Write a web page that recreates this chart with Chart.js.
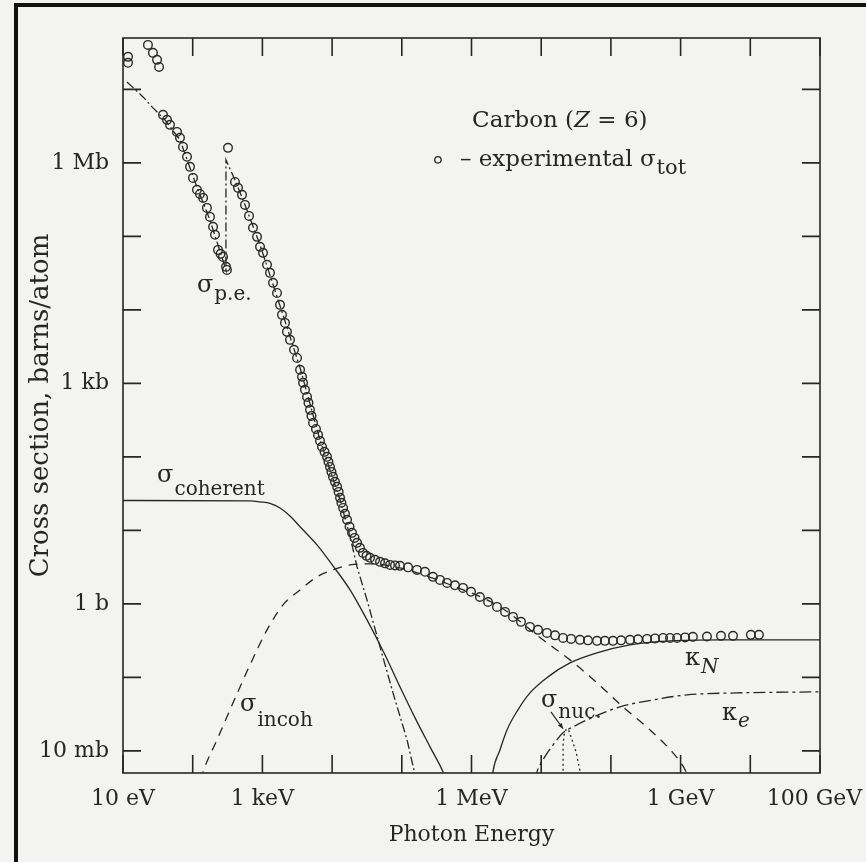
<!DOCTYPE html>
<html>
<head>
<meta charset="utf-8">
<title>Photon cross section - Carbon</title>
<script src="https://cdn.jsdelivr.net/npm/chart.js@4.4.1/dist/chart.umd.min.js"></script>
<style>
  html, body { margin: 0; padding: 0; background: #f3f3f1; }
  #wrap { position: relative; width: 866px; height: 862px; overflow: hidden; }
  #frame {
    position: absolute; left: 14px; top: 3px; right: -10px; bottom: -10px;
    border-left: 4px solid #111; border-top: 4px solid #111; pointer-events: none;
  }
</style>
</head>
<body>
<div id="wrap">
  <canvas id="xsecChart"></canvas>
  <div id="frame"></div>
</div>
<script>
// Axis ticks (eV on x, barns on y)
const X_TICKS = [1e1, 1e2, 1e3, 1e4, 1e5, 1e6, 1e7, 1e8, 1e9, 1e10, 1e11];
const X_TICK_LABELS = ['10 eV', '', '1 keV', '', '', '1 MeV', '', '', '1 GeV', '', '100 GeV\u2002'];
const Y_TICKS = [1e-2, 1e-1, 1e0, 1e1, 1e2, 1e3, 1e4, 1e5, 1e6, 1e7];
const Y_TICK_LABELS = ['10 mb', '', '1 b', '', '', '1 kb', '', '', '1 Mb', ''];

// experimental total cross section (open circles)
const totEnergy = [
  11.8, 11.8, 22.8, 26.9, 30.8, 32.9,
  37.5, 42.8, 47.2, 59.5, 65.7, 72.6, 82.8, 91.5, 101, 115, 127, 141, 160, 177, 196, 209, 231, 251, 272, 301, 310,
  321,
  404, 447, 510, 563, 643, 733, 837, 925, 1020, 1165, 1285, 1420, 1620, 1790, 1910, 2110, 2250, 2490, 2840,
  3140, 3470, 3700, 3830, 4080, 4370, 4580, 4820, 5060, 5330, 5870, 6280, 6700, 7160, 7780, 8450, 8870, 9340,
  9790, 1.03e4, 1.1e4, 1.18e4, 1.24e4, 1.3e4, 1.36e4, 1.44e4, 1.53e4, 1.64e4, 1.78e4, 1.93e4, 2.1e4, 2.28e4,
  2.51e4, 2.77e4, 3.12e4, 3.5e4, 4.13e4, 4.87e4, 5.74e4, 6.77e4, 7.98e4, 9.42e4, 1.23e5, 1.65e5, 2.15e5, 2.8e5,
  3.53e5, 4.46e5, 5.8e5, 7.55e5, 9.84e5, 1.32e6, 1.73e6, 2.32e6, 3.03e6, 3.94e6, 5.13e6, 6.9e6, 9e6, 1.21e7,
  1.58e7, 2.06e7, 2.68e7, 3.6e7, 4.69e7, 6.32e7, 8.2e7, 1.07e8, 1.4e8, 1.88e8, 2.45e8, 3.3e8, 4.3e8, 5.6e8,
  7.05e8, 8.9e8, 1.16e9, 1.5e9, 2.39e9, 3.8e9, 5.65e9, 1.02e10, 1.33e10
];
const totSigma = [
  2.77e7, 2.3e7, 4.03e7, 3.14e7, 2.52e7, 2.02e7,
  4.5e6, 3.85e6, 3.29e6, 2.64e6, 2.19e6, 1.65e6, 1.21e6, 8.83e5, 6.25e5, 4.3e5, 3.78e5, 3.34e5, 2.44e5, 1.84e5, 1.35e5, 1.05e5, 6.55e4, 5.78e4, 5.26e4, 3.85e4, 3.5e4,
  1.6e6,
  5.5e5, 4.57e5, 3.67e5, 2.68e5, 1.9e5, 1.31e5, 9.85e4, 7.2e4, 5.97e4, 4.1e4, 3.19e4, 2.33e4, 1.7e4, 1.17e4, 8550, 6650, 5020, 3910, 2860,
  2220, 1530, 1230, 1020, 817, 655, 543, 436, 361, 290, 240, 199, 165, 137, 117, 100, 85.5, 73,
  62.5, 53.5, 45.7, 39.1, 33.4, 27.7, 23.7, 20.2, 16.8, 13.9, 11.2, 9.25, 7.9, 6.76,
  5.78, 4.94, 4.5, 4.23, 3.97, 3.73, 3.56, 3.39, 3.34, 3.29, 3.14, 2.9, 2.73, 2.33,
  2.12, 1.93, 1.79, 1.65, 1.46, 1.24, 1.06, 0.91, 0.778, 0.665, 0.569, 0.486, 0.443, 0.403,
  0.373, 0.344, 0.334, 0.324, 0.319, 0.314, 0.314, 0.314, 0.319, 0.324, 0.329, 0.334, 0.339, 0.344,
  0.344, 0.344, 0.35, 0.356, 0.36, 0.367, 0.367, 0.379, 0.379
];

// photoelectric (dash-dot), with the K edge
const peEnergy = [11.4, 19.4, 26.9, 40, 65.7, 108, 177, 300, 300, 404, 563, 925, 1910, 3470, 6700, 1.3e4, 1.81e4, 2.28e4, 3.17e4, 4.87e4, 7.48e4, 1.19e5, 1.55e5];
const peSigma = [1.26e7, 7.9e6, 5.6e6, 3.85e6, 2.06e6, 5.5e5, 1.67e5, 3.5e4, 1.1e6, 5.87e5, 2.68e5, 7.66e4, 9400, 1630, 170, 26, 8.2, 3.18, 1.13, 0.26, 0.0615, 0.0141, 0.00472];

// coherent (Rayleigh) scattering
const cohEnergy = [10, 664, 925, 1285, 1790, 2490, 3470, 6070, 1.03e4, 1.81e4, 3.17e4, 5.37e4, 9.42e4, 1.55e5, 2.54e5, 3.9e5, 4.3e5];
const cohSigma = [25.5, 25.2, 24.4, 23.3, 20.2, 15.7, 11.2, 6.35, 3.29, 1.55, 0.605, 0.23, 0.0743, 0.0281, 0.01135, 0.00518, 0.004];

// incoherent (Compton) scattering
const incEnergy = [131, 141, 223, 379, 664, 1165, 1980, 3470, 6070, 1.03e4, 1.81e4, 3.5e4, 9.42e4, 4.92e5, 2.56e6, 1.06e7, 2.59e7, 6.32e7, 1.49e8, 3.64e8, 7.78e8, 1.08e9, 1.28e9];
const incSigma = [0.004, 0.00518, 0.0141, 0.045, 0.148, 0.443, 0.97, 1.55, 2.33, 2.9, 3.4, 3.5, 3.09, 1.82, 0.91, 0.324, 0.173, 0.0842, 0.0397, 0.0193, 0.0094, 0.00625, 0.0046];

// pair production, nuclear field
const knEnergy = [1.97e6, 2.03e6, 2.56e6, 3.23e6, 4.64e6, 6.9e6, 1.25e7, 2.59e7, 6.32e7, 1.88e8, 7.05e8, 3.67e9, 1e11];
const knSigma = [0.004, 0.00518, 0.0103, 0.0193, 0.0362, 0.0615, 0.1016, 0.1575, 0.216, 0.277, 0.314, 0.324, 0.324];

// pair production, electron field
const keEnergy = [8.15e6, 8.7e6, 1.06e7, 1.48e7, 2.06e7, 3.06e7, 4.54e7, 1.35e8, 4.02e8, 1.24e9, 6.44e9, 1e11];
const keSigma = [0.004, 0.00518, 0.00755, 0.0121, 0.0176, 0.0219, 0.0264, 0.0397, 0.0494, 0.0578, 0.0615, 0.0635];

// photonuclear (giant dipole resonance)
const nucEnergy = [2.06e7, 2.06e7, 2.13e7, 2.3e7, 2.5e7, 2.77e7, 3.16e7, 3.72e7];
const nucSigma = [0.0046, 0.0121, 0.0165, 0.020, 0.0187, 0.0141, 0.0097, 0.0046];

const INK = '#262626';
const SERIF = '"DejaVu Serif", "Liberation Serif", serif';
const TICK_LEN = 18;

function zip(xs, ys) {
  return xs.map((x, i) => ({ x: x, y: ys[i] }));
}

function curve(label, xs, ys, dash, smooth) {
  return {
    label: label,
    data: zip(xs, ys),
    showLine: true,
    borderColor: INK,
    borderWidth: 1.3,
    borderDash: dash,
    pointRadius: 0,
    tension: smooth ? 0.4 : 0,
    cubicInterpolationMode: smooth ? 'monotone' : 'default',
    fill: false
  };
}

// text labels placed in data coordinates (energy, sigma)
const CURVE_LABELS = [
  { e: 115, s: 1.76e4, main: 'σ', sub: 'p.e.', drop: 8 },
  { e: 30.8, s: 45.7, main: 'σ', sub: 'coherent', drop: 13 },
  { e: 477, s: 0.0351, main: 'σ', sub: 'incoh', drop: 15 },
  { e: 9.93e6, s: 0.0397, main: 'σ', sub: 'nuc.', drop: 11 },
  { e: 1.16e9, s: 0.148, main: 'κ', sub: 'N', drop: 8, italic: true },
  { e: 3.93e9, s: 0.0264, main: 'κ', sub: 'e', drop: 7, italic: true }
];

/**
 * Frame around the plot with inward ticks on all four sides
 */
const frameTicks = {
  id: 'frameTicks',
  afterDatasetsDraw(chart) {
    const { ctx, chartArea: a, scales: { x, y } } = chart;
    ctx.save();
    ctx.strokeStyle = INK;
    ctx.lineWidth = 1.6;
    ctx.strokeRect(a.left, a.top, a.right - a.left, a.bottom - a.top);
    ctx.beginPath();
    X_TICKS.forEach(v => {
      const px = x.getPixelForValue(v);
      ctx.moveTo(px, a.bottom); ctx.lineTo(px, a.bottom - TICK_LEN);
      ctx.moveTo(px, a.top); ctx.lineTo(px, a.top + TICK_LEN);
    });
    Y_TICKS.forEach(v => {
      const py = y.getPixelForValue(v);
      ctx.moveTo(a.left, py); ctx.lineTo(a.left + TICK_LEN, py);
      ctx.moveTo(a.right, py); ctx.lineTo(a.right - TICK_LEN, py);
    });
    ctx.stroke();
    ctx.restore();
  }
};

/**
 * Draw symbol with subscript
 */
function drawSub(ctx, x, y, main, sub, drop, italic, mainSize, subSize) {
  ctx.font = `${mainSize}px ${SERIF}`;
  ctx.fillText(main, x, y);
  const w = ctx.measureText(main).width;
  ctx.font = `${italic ? 'italic ' : ''}${subSize}px ${SERIF}`;
  ctx.fillText(sub, x + w + 1, y + drop);
}

const annotations = {
  id: 'annotations',
  afterDraw(chart) {
    const { ctx, scales: { x, y } } = chart;
    ctx.save();
    ctx.fillStyle = INK;
    ctx.strokeStyle = INK;
    ctx.textBaseline = 'alphabetic';
    ctx.textAlign = 'left';

    CURVE_LABELS.forEach(l => {
      drawSub(ctx, x.getPixelForValue(l.e), y.getPixelForValue(l.s), l.main, l.sub, l.drop, l.italic, 24, 20);
    });

    // arrow from sigma_nuc label to the resonance
    const ax0 = x.getPixelForValue(1.38e7), ay0 = y.getPixelForValue(0.034);
    const ax1 = x.getPixelForValue(2.06e7), ay1 = y.getPixelForValue(0.02);
    ctx.lineWidth = 1.2;
    ctx.beginPath();
    ctx.moveTo(ax0, ay0); ctx.lineTo(ax1, ay1);
    ctx.stroke();
    const ang = Math.atan2(ay1 - ay0, ax1 - ax0);
    ctx.beginPath();
    ctx.moveTo(ax1, ay1);
    ctx.lineTo(ax1 - 6 * Math.cos(ang - 0.4), ay1 - 6 * Math.sin(ang - 0.4));
    ctx.lineTo(ax1 - 6 * Math.cos(ang + 0.4), ay1 - 6 * Math.sin(ang + 0.4));
    ctx.closePath();
    ctx.fill();

    // title block
    let tx = x.getPixelForValue(1.02e6);
    const ty = y.getPixelForValue(3.09e6);
    ctx.font = `23px ${SERIF}`;
    ctx.fillText('Carbon (', tx, ty);
    tx += ctx.measureText('Carbon (').width;
    ctx.font = `italic 23px ${SERIF}`;
    ctx.fillText('Z', tx, ty);
    tx += ctx.measureText('Z').width;
    ctx.font = `23px ${SERIF}`;
    ctx.fillText(' = 6)', tx, ty);

    // legend line for the circles
    const cx = x.getPixelForValue(3.3e5), cy = y.getPixelForValue(1.1e6);
    ctx.lineWidth = 1.3;
    ctx.beginPath();
    ctx.arc(cx, cy, 3.2, 0, Math.PI * 2);
    ctx.stroke();
    drawSub(ctx, cx + 22, cy + 6, '– experimental σ', 'tot', 8, false, 23, 21);

    ctx.restore();
  }
};

const ctx = document.getElementById('xsecChart').getContext('2d');

const xsecChart = new Chart(ctx, {
  type: 'scatter',
  data: {
    datasets: [
      {
        label: 'experimental σtot',
        data: zip(totEnergy, totSigma),
        showLine: false,
        pointStyle: 'circle',
        pointRadius: 4.3,
        pointBorderWidth: 1.4,
        pointBorderColor: '#2a2a2a',
        pointBackgroundColor: 'rgba(0,0,0,0)'
      },
      curve('σp.e.', peEnergy, peSigma, [9, 3, 2, 3], false),
      curve('σcoherent', cohEnergy, cohSigma, [], true),
      curve('σincoh', incEnergy, incSigma, [9, 7], true),
      curve('κN', knEnergy, knSigma, [], true),
      curve('κe', keEnergy, keSigma, [12, 4, 3, 4], true),
      curve('σnuc', nucEnergy, nucSigma, [2, 3], false)
    ]
  },
  options: {
    responsive: true,
    maintainAspectRatio: false,
    animation: false,
    layout: { padding: { top: 38, right: 46, left: 0, bottom: 0 } },
    plugins: {
      legend: { display: false },
      tooltip: { enabled: false }
    },
    scales: {
      x: {
        type: 'logarithmic',
        position: 'bottom',
        min: 10,
        max: 1e11,
        afterBuildTicks: s => { s.ticks = X_TICKS.map(v => ({ value: v })); },
        afterFit: s => { s.height = 89; s.paddingLeft = 0; s.paddingRight = 0; },
        grid: { display: false },
        border: { display: false },
        ticks: {
          autoSkip: false,
          maxRotation: 0,
          padding: 5,
          color: INK,
          font: { family: SERIF, size: 22 },
          callback: (v, i) => X_TICK_LABELS[i]
        },
        title: {
          display: true,
          text: 'Photon Energy',
          color: INK,
          font: { family: SERIF, size: 22 },
          padding: { top: 0, bottom: 14 }
        }
      },
      y: {
        type: 'logarithmic',
        position: 'left',
        min: 5e-3,
        max: 5e7,
        afterBuildTicks: s => { s.ticks = Y_TICKS.map(v => ({ value: v })); },
        afterFit: s => { s.width = 123; },
        grid: { display: false },
        border: { display: false },
        ticks: {
          autoSkip: false,
          padding: 6,
          color: INK,
          font: { family: SERIF, size: 22 },
          callback: (v, i) => Y_TICK_LABELS[i]
        },
        title: {
          display: true,
          text: 'Cross section, barns/atom',
          color: INK,
          font: { family: SERIF, size: 26 },
          padding: { top: 26, bottom: 0 }
        }
      }
    }
  },
  plugins: [frameTicks, annotations]
});
</script>
</body>
</html>
